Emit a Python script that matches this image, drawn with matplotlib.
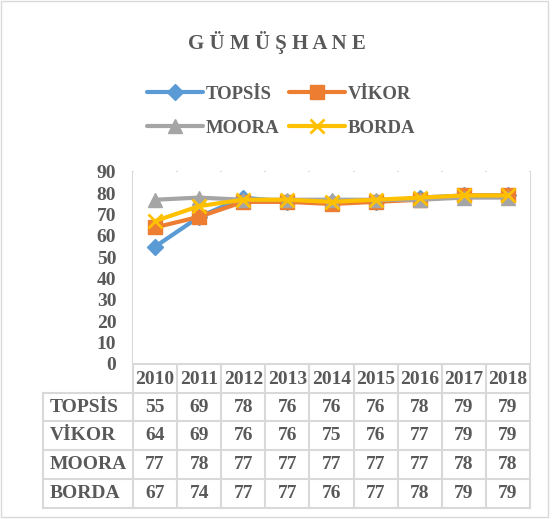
import matplotlib.pyplot as plt
from matplotlib.patches import Rectangle
from matplotlib.lines import Line2D

years = ['2010', '2011', '2012', '2013', '2014', '2015', '2016', '2017', '2018']
methods = ['TOPSİS', 'VİKOR', 'MOORA', 'BORDA']
topsis = [55, 69, 78, 76, 76, 76, 78, 79, 79]
vikor = [64, 69, 76, 76, 75, 76, 77, 79, 79]
moora = [77, 78, 77, 77, 77, 77, 77, 78, 78]
borda = [67, 74, 77, 77, 76, 77, 78, 79, 79]
series = [topsis, vikor, moora, borda]

colors = ['#5B9BD5', '#ED7D31', '#A5A5A5', '#FFC000']
markers = ['D', 's', '^', 'x']
msizes = [8, 10, 10, 10]
txt = '#595959'
grid = '#D9D9D9'

plt.rcParams['font.family'] = ['Liberation Serif', 'DejaVu Serif']
plt.rcParams['font.weight'] = 'bold'

W, H = 555, 519
fig = plt.figure(figsize=(W / 100, H / 100), dpi=100)

def fx(px):
    return px / W

def fy(py):
    return 1 - py / H

left, right, top, bottom = 133, 530, 172, 364
ax = fig.add_axes([fx(left), fy(bottom), fx(right - left), (bottom - top) / H])

x = list(range(len(years)))
handles = []
for vals, c, m, ms, name in zip(series, colors, markers, msizes, methods):
    h, = ax.plot(x, vals, color=c, lw=3, marker=m, ms=ms, mew=2 if m == 'x' else 1,
                 mec=c, mfc=c, label=name, solid_capstyle='round', zorder=3)
    handles.append(h)

ax.set_xlim(-0.5, len(years) - 0.5)
ax.set_ylim(0, 90)
ax.set_yticks(range(0, 91, 10))
ax.tick_params(axis='y', length=0, labelsize=14, labelcolor=txt, pad=12)
ax.set_xticks([])
for s in ax.spines.values():
    s.set_visible(False)

# vertical separators running through the data table
row_px = [393, 421, 450, 479, 508]
for i in range(len(years) + 1):
    xp = fx(left + (right - left) * i / len(years))
    fig.add_artist(Line2D([xp, xp], [fy(top), fy(row_px[-1])], color=grid, lw=1.5, zorder=0))
fig.add_artist(Line2D([fx(left), fx(right)], [fy(bottom), fy(bottom)], color=grid, lw=1.5))
for yp in row_px:
    fig.add_artist(Line2D([fx(43), fx(right)], [fy(yp), fy(yp)], color=grid, lw=1.5))
fig.add_artist(Line2D([fx(43), fx(43)], [fy(row_px[0]), fy(row_px[-1])], color=grid, lw=1.5))

# header and table text
cw = (right - left) / len(years)
for i, yr in enumerate(years):
    fig.text(fx(left + cw * (i + 0.5)), fy(380), yr, ha='center', va='center',
             fontsize=14, color=txt, fontweight='bold')
for r, (name, vals) in enumerate(zip(methods, series)):
    yc = (row_px[r] + row_px[r + 1]) / 2
    fig.text(fx(50), fy(yc), name, ha='left', va='center', fontsize=14,
             color=txt, fontweight='bold')
    for i, v in enumerate(vals):
        fig.text(fx(left + cw * (i + 0.5)), fy(yc), str(v), ha='center', va='center',
                 fontsize=14, color=txt, fontweight='bold')

fig.text(fx(277), fy(42), 'G Ü M Ü Ş H A N E', ha='center', va='center',
         fontsize=15, color=txt, fontweight='bold')

# legend filled row by row: TOPSİS, VİKOR / MOORA, BORDA
order = [0, 2, 1, 3]
leg = fig.legend([handles[i] for i in order], [methods[i] for i in order],
                 loc='center', bbox_to_anchor=(fx(281), fy(111)), ncol=2, frameon=False,
                 fontsize=13.5, handlelength=3.0, columnspacing=0.5, labelspacing=0.9,
                 handletextpad=0.15)
for t in leg.get_texts():
    t.set_color(txt)

fig.add_artist(Rectangle((fx(1), fy(517)), fx(547), 516 / H, fill=False,
                         edgecolor=grid, lw=1))

fig.savefig('out.png', dpi=100)
